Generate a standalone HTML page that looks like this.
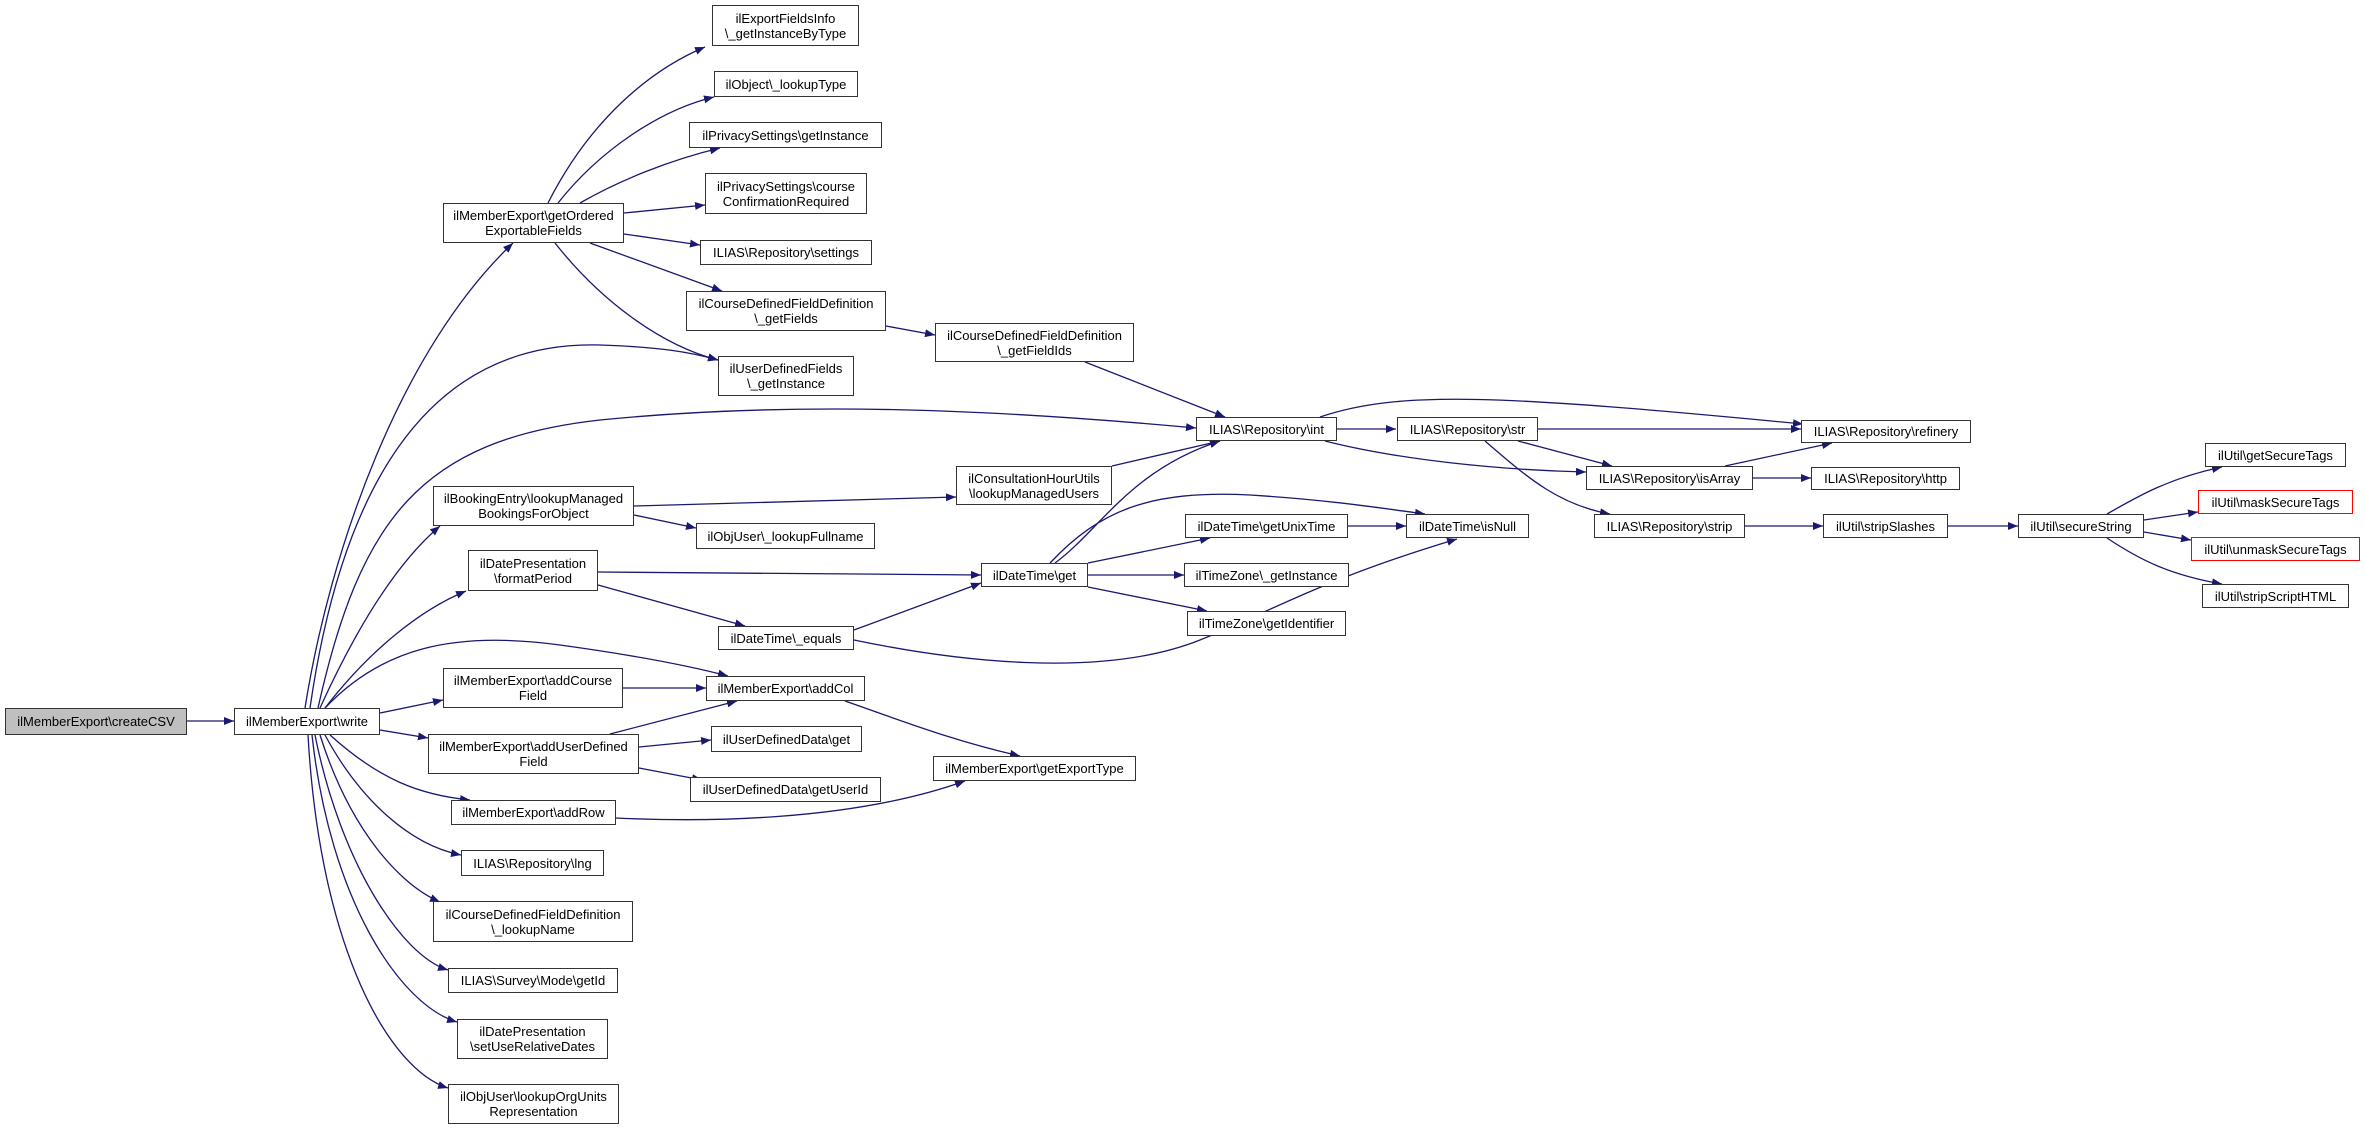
<!DOCTYPE html>
<html><head><meta charset="utf-8"><style>
body{margin:0;width:2365px;height:1131px;background:#fff;position:relative;overflow:hidden;font-family:"Liberation Sans",sans-serif;}
.n{position:absolute;box-sizing:border-box;border:1.5px solid #333;background:#fff;font-size:13px;line-height:15px;display:flex;align-items:center;justify-content:center;text-align:center;color:#000;white-space:nowrap;}
.r{border-color:#f00;}
svg{position:absolute;left:0;top:0;}
</style></head><body>
<svg width="2365" height="1131" viewBox="0 0 2365 1131">
<defs><marker id="a" viewBox="0 0 10 8" refX="10" refY="4" markerWidth="10" markerHeight="8" markerUnits="userSpaceOnUse" orient="auto"><path d="M0,0 L10,4 L0,8 z" fill="#191970"/></marker></defs>
<g fill="none" stroke="#191970" stroke-width="1.3" marker-end="url(#a)">
<path d="M187,721 L234,721"/>
<path d="M305,708 C330,550 400,350 513,243"/>
<path d="M310,708 C340,500 420,340 600,345 C660,347 690,352 718,360"/>
<path d="M318,708 C360,520 420,440 600,420 C800,400 1000,410 1196,428"/>
<path d="M320,708 C360,620 400,560 440,526"/>
<path d="M325,708 C370,650 420,610 466,591"/>
<path d="M325,708 C380,650 450,630 560,645 C640,656 690,666 728,676"/>
<path d="M380,713 L443,700"/>
<path d="M380,730 L428,738"/>
<path d="M330,735 C380,780 420,795 470,800"/>
<path d="M325,735 C360,800 410,845 461,855"/>
<path d="M320,735 C350,830 400,885 440,902"/>
<path d="M315,735 C340,860 400,955 448,970"/>
<path d="M312,735 C330,900 400,1005 457,1022"/>
<path d="M308,735 C320,950 390,1070 448,1088"/>
<path d="M548,203 C590,120 650,70 705,47"/>
<path d="M558,203 C600,150 660,110 714,97"/>
<path d="M580,203 C620,180 670,160 720,148"/>
<path d="M624,213 L705,205"/>
<path d="M624,234 L700,245"/>
<path d="M590,243 L722,291"/>
<path d="M555,243 C600,300 660,345 718,360"/>
<path d="M886,326 L935,335"/>
<path d="M1085,362 L1225,417"/>
<path d="M634,506 L956,497"/>
<path d="M1112,466 L1220,441"/>
<path d="M634,515 L696,528"/>
<path d="M598,572 L981,575"/>
<path d="M598,585 L745,626"/>
<path d="M854,630 L981,583"/>
<path d="M854,640 C950,660 1100,680 1200,640 C1270,612 1320,580 1457,539"/>
<path d="M1055,563 C1100,530 1130,470 1220,441"/>
<path d="M1050,563 C1100,510 1150,490 1250,495 C1330,500 1380,508 1425,514"/>
<path d="M1088,563 L1210,538"/>
<path d="M1088,575 L1184,575"/>
<path d="M1088,587 L1207,611"/>
<path d="M1348,526 L1406,526"/>
<path d="M1337,429 L1396,429"/>
<path d="M1320,417 C1400,390 1500,395 1803,424"/>
<path d="M1325,441 C1400,460 1500,470 1586,472"/>
<path d="M1538,429 L1801,429"/>
<path d="M1518,441 L1612,466"/>
<path d="M1485,441 C1530,480 1560,505 1610,514"/>
<path d="M1725,466 L1832,443"/>
<path d="M1753,478 L1811,478"/>
<path d="M1745,526 L1823,526"/>
<path d="M1948,526 L2018,526"/>
<path d="M2107,514 C2140,495 2170,478 2222,467"/>
<path d="M2144,520 L2198,512"/>
<path d="M2144,532 L2191,540"/>
<path d="M2107,538 C2140,560 2170,575 2222,584"/>
<path d="M623,688 L706,688"/>
<path d="M610,734 L737,701"/>
<path d="M639,747 L711,740"/>
<path d="M639,768 L702,780"/>
<path d="M845,701 C900,720 950,740 1020,756"/>
<path d="M616,818 C700,822 850,822 965,781"/>
</g></svg>
<div class="n" style="left:712px;top:5px;width:147px;height:41px;">ilExportFieldsInfo<br>\_getInstanceByType</div>
<div class="n" style="left:714px;top:71px;width:144px;height:26px;">ilObject\_lookupType</div>
<div class="n" style="left:689px;top:122px;width:193px;height:26px;">ilPrivacySettings\getInstance</div>
<div class="n" style="left:705px;top:173px;width:162px;height:41px;">ilPrivacySettings\course<br>ConfirmationRequired</div>
<div class="n" style="left:443px;top:203px;width:181px;height:40px;">ilMemberExport\getOrdered<br>ExportableFields</div>
<div class="n" style="left:700px;top:240px;width:172px;height:25px;">ILIAS\Repository\settings</div>
<div class="n" style="left:686px;top:291px;width:200px;height:40px;">ilCourseDefinedFieldDefinition<br>\_getFields</div>
<div class="n" style="left:718px;top:356px;width:136px;height:40px;">ilUserDefinedFields<br>\_getInstance</div>
<div class="n" style="left:433px;top:486px;width:201px;height:40px;">ilBookingEntry\lookupManaged<br>BookingsForObject</div>
<div class="n" style="left:696px;top:523px;width:179px;height:26px;">ilObjUser\_lookupFullname</div>
<div class="n" style="left:468px;top:550px;width:130px;height:41px;">ilDatePresentation<br>\formatPeriod</div>
<div class="n" style="left:718px;top:626px;width:136px;height:24px;">ilDateTime\_equals</div>
<div class="n" style="left:706px;top:676px;width:159px;height:25px;">ilMemberExport\addCol</div>
<div class="n" style="left:443px;top:668px;width:180px;height:40px;">ilMemberExport\addCourse<br>Field</div>
<div class="n" style="left:5px;top:708px;width:182px;height:27px;background:#bfbfbf;">ilMemberExport\createCSV</div>
<div class="n" style="left:234px;top:708px;width:146px;height:27px;">ilMemberExport\write</div>
<div class="n" style="left:428px;top:734px;width:211px;height:40px;">ilMemberExport\addUserDefined<br>Field</div>
<div class="n" style="left:711px;top:726px;width:151px;height:26px;">ilUserDefinedData\get</div>
<div class="n" style="left:690px;top:777px;width:191px;height:25px;">ilUserDefinedData\getUserId</div>
<div class="n" style="left:451px;top:800px;width:165px;height:25px;">ilMemberExport\addRow</div>
<div class="n" style="left:461px;top:850px;width:143px;height:26px;">ILIAS\Repository\lng</div>
<div class="n" style="left:433px;top:901px;width:200px;height:41px;">ilCourseDefinedFieldDefinition<br>\_lookupName</div>
<div class="n" style="left:448px;top:968px;width:170px;height:25px;">ILIAS\Survey\Mode\getId</div>
<div class="n" style="left:457px;top:1019px;width:151px;height:40px;">ilDatePresentation<br>\setUseRelativeDates</div>
<div class="n" style="left:448px;top:1084px;width:171px;height:40px;">ilObjUser\lookupOrgUnits<br>Representation</div>
<div class="n" style="left:935px;top:323px;width:199px;height:39px;">ilCourseDefinedFieldDefinition<br>\_getFieldIds</div>
<div class="n" style="left:1196px;top:417px;width:141px;height:24px;">ILIAS\Repository\int</div>
<div class="n" style="left:1397px;top:417px;width:141px;height:24px;">ILIAS\Repository\str</div>
<div class="n" style="left:956px;top:466px;width:156px;height:39px;">ilConsultationHourUtils<br>\lookupManagedUsers</div>
<div class="n" style="left:1586px;top:466px;width:167px;height:24px;">ILIAS\Repository\isArray</div>
<div class="n" style="left:1594px;top:514px;width:151px;height:24px;">ILIAS\Repository\strip</div>
<div class="n" style="left:1185px;top:514px;width:163px;height:24px;">ilDateTime\getUnixTime</div>
<div class="n" style="left:1406px;top:514px;width:123px;height:24px;">ilDateTime\isNull</div>
<div class="n" style="left:981px;top:563px;width:107px;height:24px;">ilDateTime\get</div>
<div class="n" style="left:1184px;top:563px;width:165px;height:24px;">ilTimeZone\_getInstance</div>
<div class="n" style="left:1187px;top:611px;width:159px;height:25px;">ilTimeZone\getIdentifier</div>
<div class="n" style="left:933px;top:756px;width:203px;height:25px;">ilMemberExport\getExportType</div>
<div class="n" style="left:1801px;top:420px;width:170px;height:23px;">ILIAS\Repository\refinery</div>
<div class="n" style="left:1811px;top:467px;width:149px;height:23px;">ILIAS\Repository\http</div>
<div class="n" style="left:1823px;top:514px;width:125px;height:24px;">ilUtil\stripSlashes</div>
<div class="n" style="left:2018px;top:514px;width:126px;height:24px;">ilUtil\secureString</div>
<div class="n" style="left:2205px;top:443px;width:141px;height:24px;">ilUtil\getSecureTags</div>
<div class="n r" style="left:2198px;top:490px;width:155px;height:24px;">ilUtil\maskSecureTags</div>
<div class="n r" style="left:2191px;top:537px;width:169px;height:24px;">ilUtil\unmaskSecureTags</div>
<div class="n" style="left:2202px;top:584px;width:147px;height:24px;">ilUtil\stripScriptHTML</div>
</body></html>
